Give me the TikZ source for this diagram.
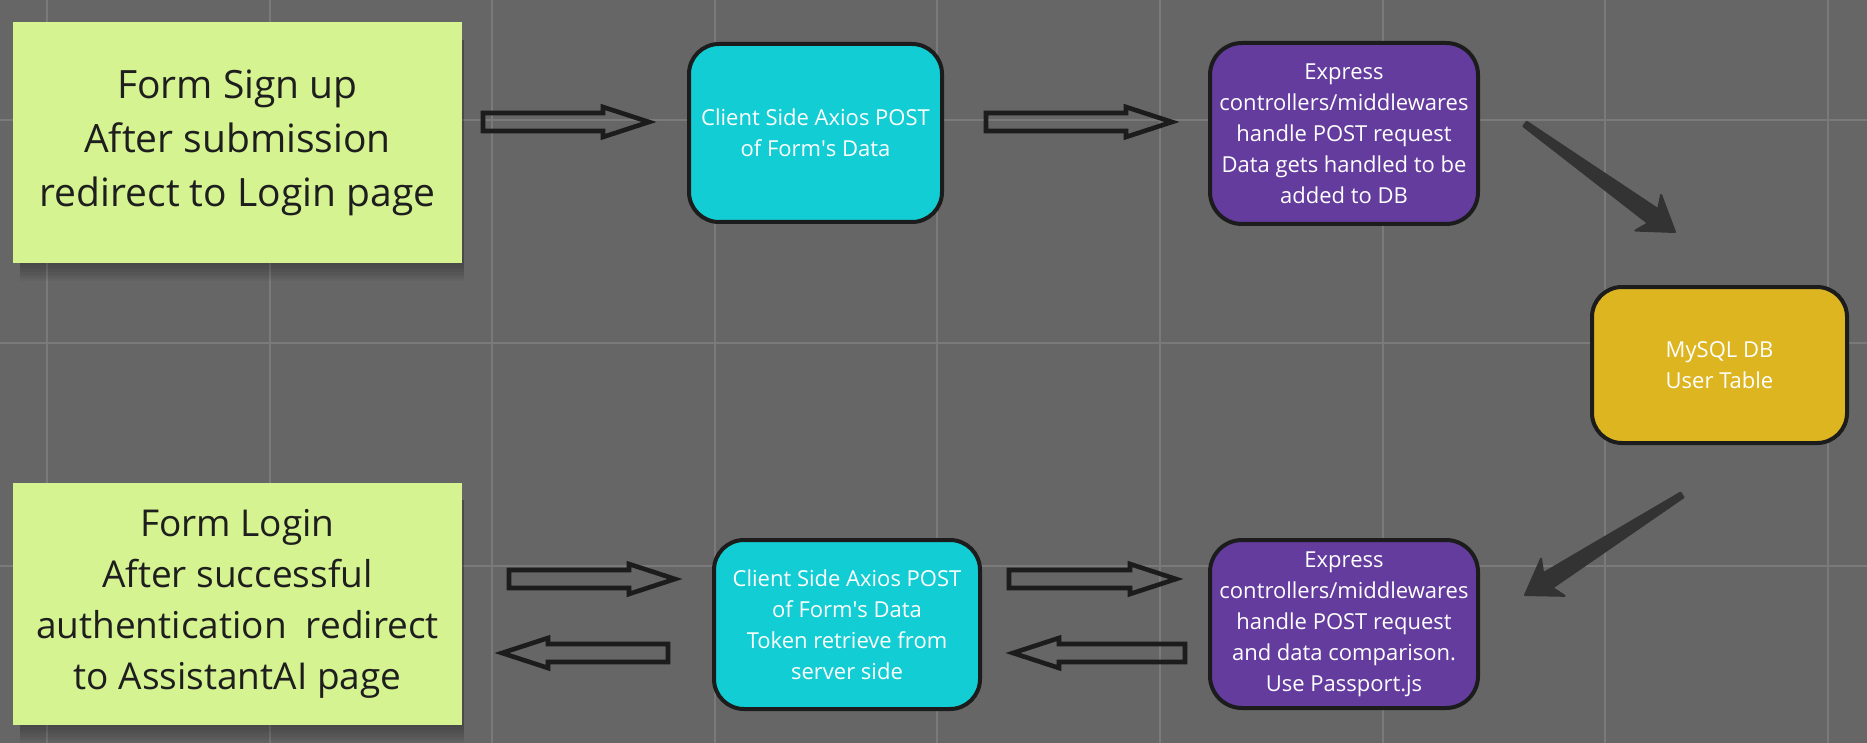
\documentclass[tikz,border=0pt]{standalone}
\usepackage{fontspec}
\setmainfont{Open Sans}
\usetikzlibrary{calc}
\definecolor{bg}{HTML}{666666}
\definecolor{gridc}{HTML}{7A7A7A}
\definecolor{sticky}{HTML}{D5F391}
\definecolor{stickytext}{HTML}{1E1E1E}
\definecolor{cyanbox}{HTML}{12CDD4}
\definecolor{purplebox}{HTML}{643C9E}
\definecolor{yellowbox}{HTML}{DDB521}
\definecolor{darkarr}{HTML}{333333}
\definecolor{boxborder}{HTML}{1C1C1C}

% hollow block arrow: #1 tail, #2 tip
\newcommand\blockarrow[2]{%
  \coordinate (hb) at ($(#2)!23pt!(#1)$);
  \draw[hollowarrow] ($(#1)!4.5pt!90:(#2)$) -- ($(hb)!4.5pt!90:(#2)$) -- ($(hb)!7.5pt!90:(#2)$)
     -- (#2) -- ($(hb)!7.5pt!-90:(#2)$) -- ($(hb)!4.5pt!-90:(#2)$) -- ($(#1)!4.5pt!-90:(#2)$) -- cycle;
}
% tapered dark arrow: #1 tail, #2 tip
\newcommand\fatarrow[2]{%
  \coordinate (fb) at ($(#2)!16.5pt!(#1)$);
  \coordinate (fn) at ($(#2)!13.5pt!(#1)$);
  \filldraw[taperarrow] ($(#1)!1.4pt!90:(#2)$) -- ($(fn)!4.3pt!90:(#2)$) -- ($(fb)!11pt!90:(#2)$)
     -- (#2) -- ($(fb)!11pt!-90:(#2)$) -- ($(fn)!4.3pt!-90:(#2)$) -- ($(#1)!1.4pt!-90:(#2)$) -- cycle;
}

\begin{document}
\begin{tikzpicture}[x=0.5pt,y=-0.5pt,
  gridline/.style={draw=gridc, line width=1pt},
  stickynote/.style={fill=sticky, text=stickytext, align=center, inner sep=0pt,
    minimum width=224.5pt},
  flowbox/.style={draw=boxborder, line width=2pt, rounded corners=15pt, text=white,
    align=center, inner sep=0pt, font=\fontsize{11}{15.5}\selectfont},
  hollowarrow/.style={draw=boxborder, line width=2.3pt, line join=miter},
  taperarrow/.style={fill=darkarr, draw=darkarr, line width=1pt, line join=round}
]
\useasboundingbox (0,0) rectangle (1867,743);
\fill[bg] (0,0) rectangle (1867,743);

% grid
\foreach \i in {0,...,8} \draw[gridline] ({47+222.6*\i},0) -- ({47+222.6*\i},743);
\foreach \j in {0,1,2} \draw[gridline] (0,{120+222.8*\j}) -- (1867,{120+222.8*\j});

% sticky shadows
\foreach \i in {1,...,8} {
  \fill[black,opacity=0.035] (20,40) rectangle (464,{263+2.3*\i});
  \fill[black,opacity=0.035] (20,500) rectangle (464,{725+2.3*\i});
}

% sticky notes
\node[stickynote, minimum height=120.5pt, font=\fontsize{19.5}{27}\selectfont] (signup) at (237.5,142.5)
  {Form Sign up\\After submission\hspace*{0.3em}\\redirect to Login page};
\node[stickynote, minimum height=121pt, font=\fontsize{18.5}{25.5}\selectfont] (login) at (237.5,604)
  {Form Login\\After successful\\authentication\ \ redirect\\to AssistantAI page};

% boxes
\node[flowbox, fill=cyanbox, minimum width=126.5pt, minimum height=89pt] (client1) at (815.5,133)
  {Client Side Axios POST\\of Form\textquotesingle s Data};
\node[flowbox, fill=purplebox, rounded corners=16pt, minimum width=134pt, minimum height=90.5pt] (express1) at (1344,133.5)
  {Express\\controllers/middlewares\\handle POST request\\Data gets handled to be\\added to DB};
\node[flowbox, fill=yellowbox, minimum width=127.5pt, minimum height=78pt] (mysql) at (1719.5,365)
  {MySQL DB\\User Table};
\node[flowbox, fill=purplebox, rounded corners=16pt, minimum width=134pt, minimum height=84pt] (express2) at (1344,624)
  {Express\\controllers/middlewares\\handle POST request\\and data comparison.\\Use Passport.js};
\node[flowbox, fill=cyanbox, minimum width=133pt, minimum height=84.5pt] (client2) at (847,624.5)
  {Client Side Axios POST\\of Form\textquotesingle s Data\\Token retrieve from\\server side};

% connector end points
\coordinate (a1s) at (483,122);  \coordinate (a1e) at (649,122);
\coordinate (a2s) at (986,122);  \coordinate (a2e) at (1172,122);
\coordinate (a3s) at (509,579);  \coordinate (a3e) at (675,579);
\coordinate (a4s) at (668,653);  \coordinate (a4e) at (502,653);
\coordinate (a5s) at (1009,579); \coordinate (a5e) at (1176,579);
\coordinate (a6s) at (1185,653); \coordinate (a6e) at (1013,653);
\coordinate (d1s) at (1525,124); \coordinate (d1e) at (1675,232);
\coordinate (d2s) at (1682,495); \coordinate (d2e) at (1525,595);

\blockarrow{a1s}{a1e}
\blockarrow{a2s}{a2e}
\blockarrow{a3s}{a3e}
\blockarrow{a4s}{a4e}
\blockarrow{a5s}{a5e}
\blockarrow{a6s}{a6e}
\fatarrow{d1s}{d1e}
\fatarrow{d2s}{d2e}
\end{tikzpicture}
\end{document}
